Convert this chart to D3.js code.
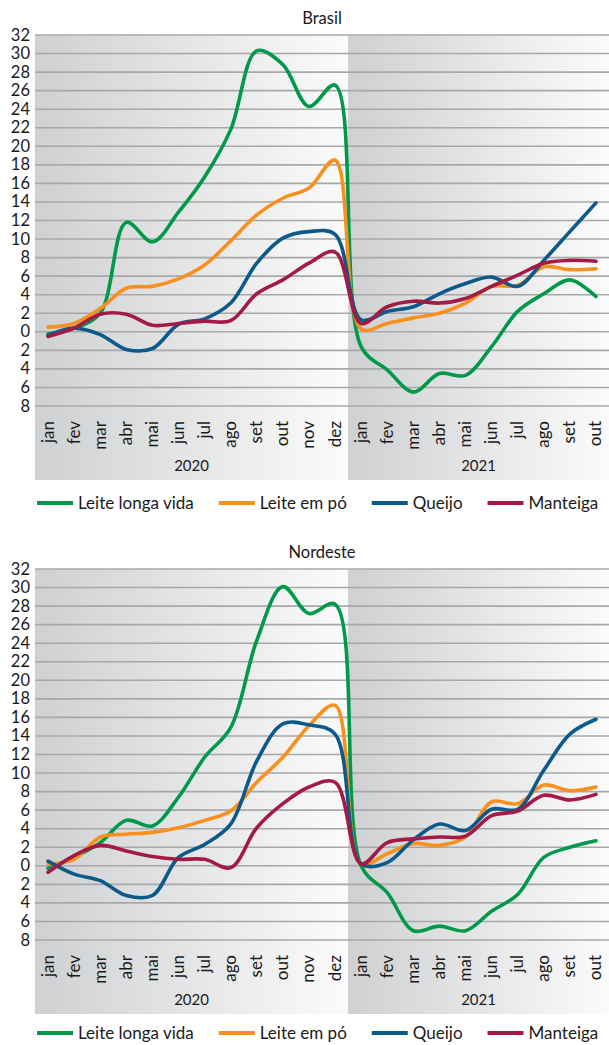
<!DOCTYPE html>
<html lang="pt">
<head>
<meta charset="utf-8">
<title>Leite e derivados - Brasil e Nordeste</title>
<script src="https://cdn.jsdelivr.net/npm/d3@7"></script>
<style>
  body { margin: 0; background: #fff; }
  text { font-family: Lato, "Open Sans", sans-serif; fill: #1a1a1a; }
  .tick-label { font-size: 16.5px; text-anchor: end; }
  .month { font-size: 17px; text-anchor: end; }
  .year { font-size: 15px; text-anchor: middle; }
  .title { font-size: 16.5px; text-anchor: middle; }
  .legend-text { font-size: 17px; }
  .grid { stroke: #a7a8aa; stroke-width: 1.6; }
  .series { fill: none; stroke-width: 3.6; stroke-linejoin: round; stroke-linecap: round; }
</style>
</head>
<body>
<div id="chart"></div>
<script>
// ---- data ----
var months = ["jan","fev","mar","abr","mai","jun","jul","ago","set","out","nov","dez",
              "jan","fev","mar","abr","mai","jun","jul","ago","set","out"];
var years = ["2020", "2021"];
var monthsPerYear = [12, 10];
var tickValues = [32,30,28,26,24,22,20,18,16,14,12,10,8,6,4,2,0,-2,-4,-6,-8];
var tickLabels = ["32","30","28","26","24","22","20","18","16","14","12","10","8","6","4","2","0","2","4","6","8"];
var seriesNames = ["Leite longa vida", "Leite em pó", "Queijo", "Manteiga"];
var seriesColors = ["#00994a", "#f7901e", "#0b5a8a", "#a31a45"];

var brasilLongaVida = [-0.25, 0.4, 2.0, 11.8, 9.7, 12.9, 16.7, 21.8, 30.3, 28.8, 24.3, 26.6,
                       -1.6, -4.1, -6.5, -4.5, -4.7, -1.6, 2.2, 4.1, 5.6, 3.8];
var brasilEmPo = [0.5, 0.9, 2.5, 4.7, 4.9, 5.7, 7.2, 9.8, 12.6, 14.4, 15.5, 18.5,
                  0.3, 0.9, 1.5, 2.0, 3.1, 4.9, 5.0, 7.0, 6.7, 6.8];
var brasilQueijo = [-0.4, 0.4, -0.3, -1.9, -1.8, 0.8, 1.4, 3.1, 7.4, 10.1, 10.8, 10.5,
                    1.3, 2.2, 2.7, 4.1, 5.2, 5.9, 4.9, 7.7, 10.8, 13.9];
var brasilManteiga = [-0.5, 0.4, 1.9, 1.9, 0.7, 0.9, 1.15, 1.2, 4.1, 5.6, 7.4, 8.6,
                      0.9, 2.7, 3.3, 3.1, 3.6, 4.9, 6.1, 7.4, 7.7, 7.6];

var nordesteLongaVida = [-0.25, 0.9, 2.5, 4.9, 4.3, 7.4, 11.7, 14.9, 24.3, 30.1, 27.2, 28.2,
                         0.0, -2.9, -7.0, -6.5, -7.0, -4.9, -3.1, 0.9, 2.0, 2.7];
var nordesteEmPo = [0.2, 0.7, 3.1, 3.4, 3.6, 4.1, 4.9, 5.9, 9.0, 11.7, 15.1, 17.3,
                    0.2, 1.3, 2.4, 2.2, 3.1, 6.9, 6.7, 8.7, 8.1, 8.5];
var nordesteQueijo = [0.5, -0.9, -1.6, -3.2, -3.2, 0.9, 2.3, 4.5, 11.3, 15.3, 15.2, 14.2,
                      0.2, 0.35, 2.8, 4.5, 3.8, 6.1, 6.1, 10.3, 14.2, 15.8];
var nordesteManteiga = [-0.7, 1.1, 2.2, 1.6, 1.0, 0.7, 0.7, -0.2, 4.1, 6.7, 8.5, 9.0,
                        0.2, 2.5, 2.9, 3.1, 3.2, 5.4, 5.9, 7.6, 7.1, 7.7];

// ---- layout ----
var width = 609, height = 1045;
var margin = {left: 35, top: 35},
    plotW = 574,
    plotH = 371,
    shadeBottom = 445,
    panelOffset = 534;

var svg = d3.select("#chart").append("svg")
    .attr("width", width)
    .attr("height", height);

var defs = svg.append("defs");
var grad = defs.append("linearGradient")
    .attr("id", "shade")
    .attr("x1", "0%").attr("x2", "100%")
    .attr("y1", "0%").attr("y2", "0%");
grad.append("stop").attr("offset", "0%").attr("stop-color", "#cfd0d2");
grad.append("stop").attr("offset", "100%").attr("stop-color", "#fbfbfb");

var keys = months.map(function(m, i){ return i; });

var xScale = d3.scaleBand().domain(keys).range([0, plotW]).padding(0);
var yScale = d3.scaleLinear().domain([-8, 32]).range([plotH, 0]);

function drawPanel(top, title, values, legendY){

  var g = svg.append("g")
      .attr("transform", "translate(" + margin.left + "," + (top + margin.top) + ")");

  // year shading
  var start = 0;
  years.forEach(function(y, i){
    var x0 = xScale(start);
    var x1 = xScale(start + monthsPerYear[i] - 1) + xScale.bandwidth();
    g.append("rect")
      .attr("x", x0)
      .attr("y", 0)
      .attr("width", x1 - x0)
      .attr("height", shadeBottom)
      .attr("fill", "url(#shade)");
    g.append("text")
      .attr("class", "year")
      .attr("x", (x0 + x1) / 2)
      .attr("y", 436)
      .text(y);
    start += monthsPerYear[i];
  });

  // gridlines
  g.selectAll("line.grid")
    .data(tickValues)
    .enter()
    .append("line")
    .attr("class", "grid")
    .attr("x1", 0)
    .attr("x2", plotW)
    .attr("y1", function(d){ return yScale(d); })
    .attr("y2", function(d){ return yScale(d); });

  // y labels
  g.selectAll("text.tick-label")
    .data(tickValues)
    .enter()
    .append("text")
    .attr("class", "tick-label")
    .attr("x", -5)
    .attr("y", function(d){ return yScale(d) + 5.5; })
    .text(function(d, i){ return tickLabels[i]; });

  // month labels
  g.selectAll("text.month")
    .data(keys)
    .enter()
    .append("text")
    .attr("class", "month")
    .attr("transform", function(d){
      var x = xScale(d) + xScale.bandwidth() / 2 + 5.5;
      return "translate(" + x + "," + (plotH + 15) + ") rotate(-90)";
    })
    .text(function(d){ return months[d]; });

  // title
  g.append("text")
    .attr("class", "title")
    .attr("x", plotW / 2)
    .attr("y", -11)
    .text(title);

  var line = d3.line()
      .x(function(d, i){ return xScale(i) + xScale.bandwidth() / 2; })
      .y(function(d){ return yScale(d); })
      .curve(d3.curveCatmullRom.alpha(0.5));

  values.forEach(function(v, i){
    g.append("path")
      .datum(v)
      .attr("class", "series")
      .attr("stroke", seriesColors[i])
      .attr("d", line);
  });

  // legend
  var lg = svg.append("g")
      .attr("transform", "translate(37," + (top + legendY) + ")");
  var lx = 0;
  seriesNames.forEach(function(name, i){
    lg.append("line")
      .attr("x1", lx).attr("x2", lx + 36)
      .attr("y1", 0).attr("y2", 0)
      .attr("stroke", seriesColors[i])
      .attr("stroke-width", 4);
    var t = lg.append("text")
      .attr("class", "legend-text")
      .attr("x", lx + 41)
      .attr("y", 6)
      .text(name);
    lx += 41 + t.node().getComputedTextLength() + 25;
  });
}

drawPanel(0, "Brasil", [brasilLongaVida, brasilEmPo, brasilQueijo, brasilManteiga], 503);
// bottom legend nudged up a little so its descenders stay inside the page
drawPanel(panelOffset, "Nordeste", [nordesteLongaVida, nordesteEmPo, nordesteQueijo, nordesteManteiga], 499);
</script>
</body>
</html>
